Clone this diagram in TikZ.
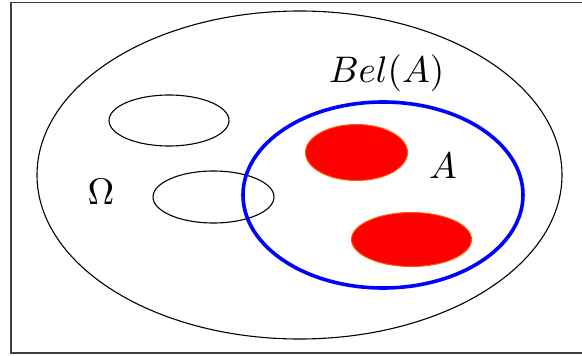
\documentclass[tikz,border=0pt]{standalone}
\tikzset{
  frame/.style={draw=black!75, line width=1.5pt},
  thin ell/.style={draw=black, line width=1.1pt},
  bel/.style={draw=blue, line width=3.6pt},
  redblob/.style={fill=red, draw=orange!70!red, line width=1pt},
  lbl/.style={scale=3.7, inner sep=0pt}
}
\begin{document}
\begin{tikzpicture}[x=1pt, y=-1pt]
\useasboundingbox (0,0) rectangle (582,356);
\clip (0,0) rectangle (582,356);
\draw[frame] (11,2.5) rectangle (595,353);
\draw[thin ell] (299.5,175) ellipse [x radius=262.5, y radius=164];
\draw[thin ell] (169,120.5) ellipse [x radius=60, y radius=25.5];
\draw[thin ell] (213.5,197) ellipse [x radius=60.5, y radius=26];
\draw[redblob] (356.5,152.5) ellipse [x radius=51, y radius=28];
\draw[redblob] (411.5,239.5) ellipse [x radius=60, y radius=27];
\draw[bel] (383,195) ellipse [x radius=140, y radius=93];
\node[lbl] (bel) at (386.5,73) {$Bel(A)$};
\node[lbl] (a) at (443,166) {$A$};
\node[lbl] (om) at (101,192) {$\Omega$};
\end{tikzpicture}
\end{document}
